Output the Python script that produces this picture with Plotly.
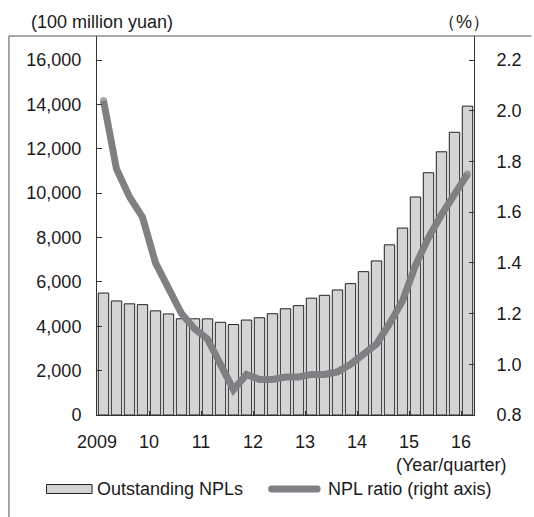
import plotly.graph_objects as go

# Quarterly data, 2009Q1 - 2016Q1
quarters = [
    "2009Q1", "2009Q2", "2009Q3", "2009Q4",
    "2010Q1", "2010Q2", "2010Q3", "2010Q4",
    "2011Q1", "2011Q2", "2011Q3", "2011Q4",
    "2012Q1", "2012Q2", "2012Q3", "2012Q4",
    "2013Q1", "2013Q2", "2013Q3", "2013Q4",
    "2014Q1", "2014Q2", "2014Q3", "2014Q4",
    "2015Q1", "2015Q2", "2015Q3", "2015Q4",
    "2016Q1",
]
# Outstanding NPLs (100 million yuan)
npl_balance = [
    5496, 5140, 5010, 4973,
    4693, 4555, 4337, 4336,
    4333, 4179, 4078, 4279,
    4382, 4564, 4788, 4929,
    5265, 5395, 5636, 5921,
    6461, 6944, 7669, 8426,
    9825, 10919, 11863, 12744,
    13921,
]
# NPL ratio (%)
npl_ratio = [
    2.04, 1.77, 1.66, 1.58,
    1.40, 1.30, 1.20, 1.14,
    1.10, 1.00, 0.90, 0.96,
    0.94, 0.94, 0.95, 0.95,
    0.96, 0.96, 0.97, 1.00,
    1.04, 1.08, 1.16, 1.25,
    1.39, 1.50, 1.59, 1.67,
    1.75,
]
year_labels = ["2009", "10", "11", "12", "13", "14", "15", "16"]
left_ticks = [0, 2000, 4000, 6000, 8000, 10000, 12000, 14000, 16000]
right_ticks = [0.8, 1.0, 1.2, 1.4, 1.6, 1.8, 2.0, 2.2]

W, H = 534, 517
L, R, T, B = 97, 56, 36, 102
plot_w = W - L - R
plot_h = H - T - B
TOP_TICK_PX = 60  # pixel row of the highest tick

FONT = "Liberation Sans, Arial, Helvetica, sans-serif"
TXT = "#1a1a1a"
AXIS = "#333333"
BAR_FILL = "#d4d4d4"
LINE_COL = "#808084"
LINE_W = 7

x_pos = list(range(len(quarters)))
# year ticks sit on the boundary before each first quarter
year_tick_pos = [x_pos[4 * k] - 0.5 for k in range(len(year_labels))]


def px_x(px):
    return (px - L) / plot_w


def px_y(py):
    return (H - B - py) / plot_h


fig = go.Figure()
fig.add_trace(go.Bar(
    x=x_pos, y=npl_balance, name="Outstanding NPLs",
    customdata=quarters,
    marker=dict(color=BAR_FILL, line=dict(color="#222222", width=1)),
    width=0.8,
    hovertemplate="%{customdata}: %{y:,}<extra></extra>",
))
# round end points give the thick line rounded caps
end_sizes = [LINE_W] + [0] * (len(npl_ratio) - 2) + [LINE_W]
fig.add_trace(go.Scatter(
    x=x_pos, y=npl_ratio, name="NPL ratio (right axis)", yaxis="y2",
    customdata=quarters,
    mode="lines+markers", line=dict(color=LINE_COL, width=LINE_W),
    marker=dict(size=end_sizes, color=LINE_COL, line=dict(width=0)),
    hovertemplate="%{customdata}: %{y:.2f}%<extra></extra>",
))

# y ranges extend above the top tick up to the frame line
base_px = H - B
y_top = 16000 + (TOP_TICK_PX - T) * 16000 / (base_px - TOP_TICK_PX)
y2_top = 2.2 + (TOP_TICK_PX - T) * 1.4 / (base_px - TOP_TICK_PX)

fig.update_layout(
    width=W, height=H,
    margin=dict(l=L, r=R, t=T, b=B, pad=0),
    paper_bgcolor="white", plot_bgcolor="white",
    showlegend=False,
    bargap=0.2,
    font=dict(family=FONT, size=18, color=TXT),
    xaxis=dict(
        range=[-0.5, len(quarters) - 0.5],
        tickmode="array", tickvals=year_tick_pos, ticktext=year_labels,
        ticks="inside", ticklen=4, tickcolor=AXIS,
        showline=True, linecolor=AXIS, linewidth=1,
        showgrid=False, zeroline=False,
        ticklabelstandoff=10,
    ),
    yaxis=dict(
        range=[0, y_top],
        tickmode="array", tickvals=left_ticks,
        ticktext=[f"{v:,}" for v in left_ticks],
        ticks="inside", ticklen=5, tickcolor=AXIS,
        showline=True, linecolor=AXIS, linewidth=1,
        showgrid=False, zeroline=False,
        ticklabelstandoff=11,
    ),
    yaxis2=dict(
        range=[0.8, y2_top], overlaying="y", side="right",
        tickmode="array", tickvals=right_ticks,
        ticktext=[f"{v:.1f}" for v in right_ticks],
        ticks="inside", ticklen=5, tickcolor=AXIS,
        showline=True, linecolor=AXIS, linewidth=1,
        showgrid=False, zeroline=False,
        ticklabelstandoff=18,
    ),
)

# outer frame (top and left edges)
frame = dict(color="#555555", width=1)
fig.add_shape(type="line", xref="paper", yref="paper",
              x0=px_x(8), x1=px_x(W + 2), y0=px_y(T), y1=px_y(T), line=frame)
fig.add_shape(type="line", xref="paper", yref="paper",
              x0=px_x(8), x1=px_x(8), y0=px_y(T), y1=px_y(H + 2), line=frame)

# unit labels
fig.add_annotation(xref="paper", yref="paper", x=px_x(28), y=px_y(22),
                   text="(100 million yuan)", showarrow=False,
                   xanchor="left", yanchor="middle")
fig.add_annotation(xref="paper", yref="paper", x=px_x(468), y=px_y(22),
                   text="（%）", showarrow=False,
                   xanchor="center", yanchor="middle")
fig.add_annotation(xref="paper", yref="paper", x=px_x(512), y=px_y(465),
                   text="(Year/quarter)", showarrow=False,
                   xanchor="right", yanchor="middle")

# legend row
leg_y = 489
fig.add_shape(type="rect", xref="paper", yref="paper",
              x0=px_x(46), x1=px_x(92), y0=px_y(leg_y - 4.5), y1=px_y(leg_y + 4.5),
              fillcolor=BAR_FILL, line=dict(color="#222222", width=1))
fig.add_annotation(xref="paper", yref="paper", x=px_x(95), y=px_y(leg_y),
                   text="Outstanding NPLs", showarrow=False,
                   xanchor="left", yanchor="middle")

# capsule-shaped line swatch
r = LINE_W / 2
sx0, sx1 = 270 + r, 323 - r
pts = [
    ("M", [(sx0, leg_y - r)]),
    ("L", [(sx1, leg_y - r)]),
    ("Q", [(sx1 + r, leg_y - r), (sx1 + r, leg_y)]),
    ("Q", [(sx1 + r, leg_y + r), (sx1, leg_y + r)]),
    ("L", [(sx0, leg_y + r)]),
    ("Q", [(sx0 - r, leg_y + r), (sx0 - r, leg_y)]),
    ("Q", [(sx0 - r, leg_y - r), (sx0, leg_y - r)]),
]
path = " ".join(
    cmd + " " + " ".join(f"{px_x(a):.5f},{px_y(b):.5f}" for a, b in coords)
    for cmd, coords in pts
) + " Z"
fig.add_shape(type="path", xref="paper", yref="paper", path=path,
              fillcolor=LINE_COL, line=dict(width=0))
fig.add_annotation(xref="paper", yref="paper", x=px_x(328), y=px_y(leg_y),
                   text="NPL ratio (right axis)", showarrow=False,
                   xanchor="left", yanchor="middle")

fig.write_html("out.html")
